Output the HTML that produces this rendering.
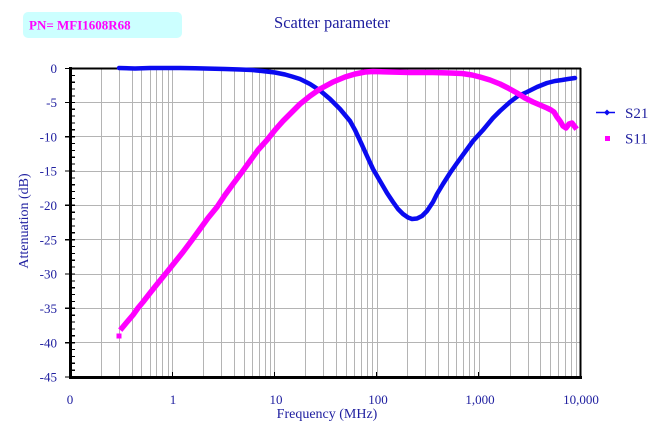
<!DOCTYPE html>
<html><head><meta charset="utf-8"><style>
html,body{margin:0;padding:0;background:#fff;}
svg{display:block;}
text{font-family:"Liberation Serif","Noto Serif CJK SC",serif;}
</style></head><body>
<svg width="666" height="430" viewBox="0 0 666 430" xmlns="http://www.w3.org/2000/svg">
<rect x="0" y="0" width="666" height="430" fill="#fff"/>
<!-- PN box -->
<rect x="23" y="12" width="159" height="26" rx="5" ry="5" fill="#ccffff"/>
<text x="29" y="29.5" font-size="13" font-weight="bold" fill="#ff00ff">PN= MFI1608R68</text>
<!-- title -->
<text x="332" y="28" font-size="16.5" fill="#2020a0" text-anchor="middle">Scatter parameter</text>
<!-- grid vertical -->
<g stroke="#b4b4b4" stroke-width="1" shape-rendering="crispEdges">
<path d="M101.5 68V377M119.5 68V377M132.5 68V377M141.5 68V377M150.5 68V377M156.5 68V377M162.5 68V377M168.5 68V377
M172.5 68V377M203.5 68V377M221.5 68V377M234.5 68V377M244.5 68V377M252.5 68V377M259.5 68V377M265.5 68V377M270.5 68V377
M274.5 68V377M305.5 68V377M323.5 68V377M336.5 68V377M346.5 68V377M354.5 68V377M361.5 68V377M367.5 68V377M372.5 68V377
M377.5 68V377M407.5 68V377M425.5 68V377M438.5 68V377M448.5 68V377M456.5 68V377M463.5 68V377M469.5 68V377M474.5 68V377
M479.5 68V377M510.5 68V377M528.5 68V377M540.5 68V377M550.5 68V377M558.5 68V377M565.5 68V377M571.5 68V377M576.5 68V377"/>
<path d="M70 102.5H581M70 136.5H581M70 171.5H581M70 205.5H581M70 239.5H581M70 274.5H581M70 308.5H581M70 342.5H581"/>
</g>
<!-- border -->
<g stroke="#000" fill="none" shape-rendering="crispEdges">
<path d="M70 68.5H581" stroke-width="2"/>
<path d="M580.5 68V377" stroke-width="2"/>
<path d="M69 377.5H582" stroke-width="3"/>
<path d="M70.5 67V379" stroke-width="3"/>
</g>
<!-- y ticks -->
<g stroke="#000" stroke-width="1.2" shape-rendering="crispEdges">
<path d="M70 75.4h5M70 82.2h5M70 89.1h5M70 96h5
M70 109.2h5M70 116h5M70 122.9h5M70 129.8h5
M70 143.5h5M70 150.4h5M70 157.3h5M70 164.1h5
M70 177.9h5M70 184.7h5M70 191.6h5M70 198.5h5
M70 212.2h5M70 219.1h5M70 226h5M70 232.8h5
M70 246.6h5M70 253.4h5M70 260.3h5M70 267.1h5
M70 280.9h5M70 287.7h5M70 294.6h5M70 301.5h5
M70 315.2h5M70 322.1h5M70 329h5M70 335.8h5
M70 349.6h5M70 356.4h5M70 363.3h5M70 370.2h5"/>
<path d="M65 68.5h10M65 102.5h10M65 136.8h10M65 171h10M65 205.3h10M65 239.7h10M65 274h10M65 308.3h10M65 342.7h10M65 377h10"/>
<path d="M172.5 372V377M274.5 372V377M376.5 372V377M478.5 372V377"/>
</g>
<!-- y labels -->
<g font-size="13" fill="#2020a0" text-anchor="end">
<text x="57" y="73">0</text>
<text x="57" y="107">-5</text>
<text x="57" y="141.5">-10</text>
<text x="57" y="175.5">-15</text>
<text x="57" y="210">-20</text>
<text x="57" y="244.5">-25</text>
<text x="57" y="278.5">-30</text>
<text x="57" y="313">-35</text>
<text x="57" y="347.5">-40</text>
<text x="57" y="381.5">-45</text>
</g>
<!-- x labels -->
<g font-size="13" fill="#2020a0" text-anchor="middle">
<text x="70" y="404">0</text>
<text x="173" y="404">1</text>
<text x="276" y="404">10</text>
<text x="378" y="404">100</text>
<text x="480" y="404">1,000</text>
<text x="581" y="404">10,000</text>
</g>
<text x="327" y="418" font-size="14" fill="#2020a0" text-anchor="middle">Frequency (MHz)</text>
<text transform="translate(28,221) rotate(-90)" font-size="14" fill="#2020a0" text-anchor="middle">Attenuation (dB)</text>
<!-- S21 -->
<polyline fill="none" stroke="#0a0af0" stroke-width="4.5" stroke-linejoin="round" stroke-linecap="round"
points="119,68 135,68.5 150,68 165,68 180,68 195,68.3 210,68.6 225,69 240,69.5 252,70 262,71 275,72.5 285,74.5 292,76.5 300,79 310,84 320,90.5 330,99 340,109 350,121 355,130 362,145 367,156 373,169 380,181 387,193 393,202 398,209 403,214 408,217.5 412,219 417,218.5 422,216 427,211 433,202 437,194 443,184 450,173 457,163 465,152 473,141 483,130 493,118 500,111 510,102 518,96 527,92 537,87 547,83 555,81 562,80 568,79 575,78"/>
<!-- S11 -->
<rect x="116.5" y="333.5" width="5" height="5" fill="#ff00ff"/>
<polyline fill="none" stroke="#ff00ff" stroke-width="5.5" stroke-linejoin="round" stroke-linecap="square"
points="122,328 127,322 133,315 138,308 143,302 150,293 158,283 167,272 175,262 183,252 192,240 200,229 208,218 217,207 225,195 233,184 242,172 250,161 258,150 267,140 275,130 283,121 292,112 300,104 310,96 320,89 333,82 345,77 355,74 365,72 373,71.5 390,72 410,72.5 433,72.5 450,73 462,73.5 472,75 480,77 490,80 500,84 508,88 517,93 525,98 533,102 540,105 547,108 551,110 554,112 557,117 560,121 563,126 566,128 569,124 572,123 575,127"/>
<!-- legend -->
<path d="M596 112.5H615" stroke="#0a0af0" stroke-width="1.5"/>
<path d="M607 109.5L610 112.5L607 115.5L604 112.5Z" fill="#0a0af0"/>
<text x="625" y="118" font-size="15" fill="#2020a0">S21</text>
<rect x="605" y="136" width="5" height="5" fill="#ff00ff"/>
<text x="625" y="143.5" font-size="15" fill="#2020a0">S11</text>
</svg>
</body></html>
